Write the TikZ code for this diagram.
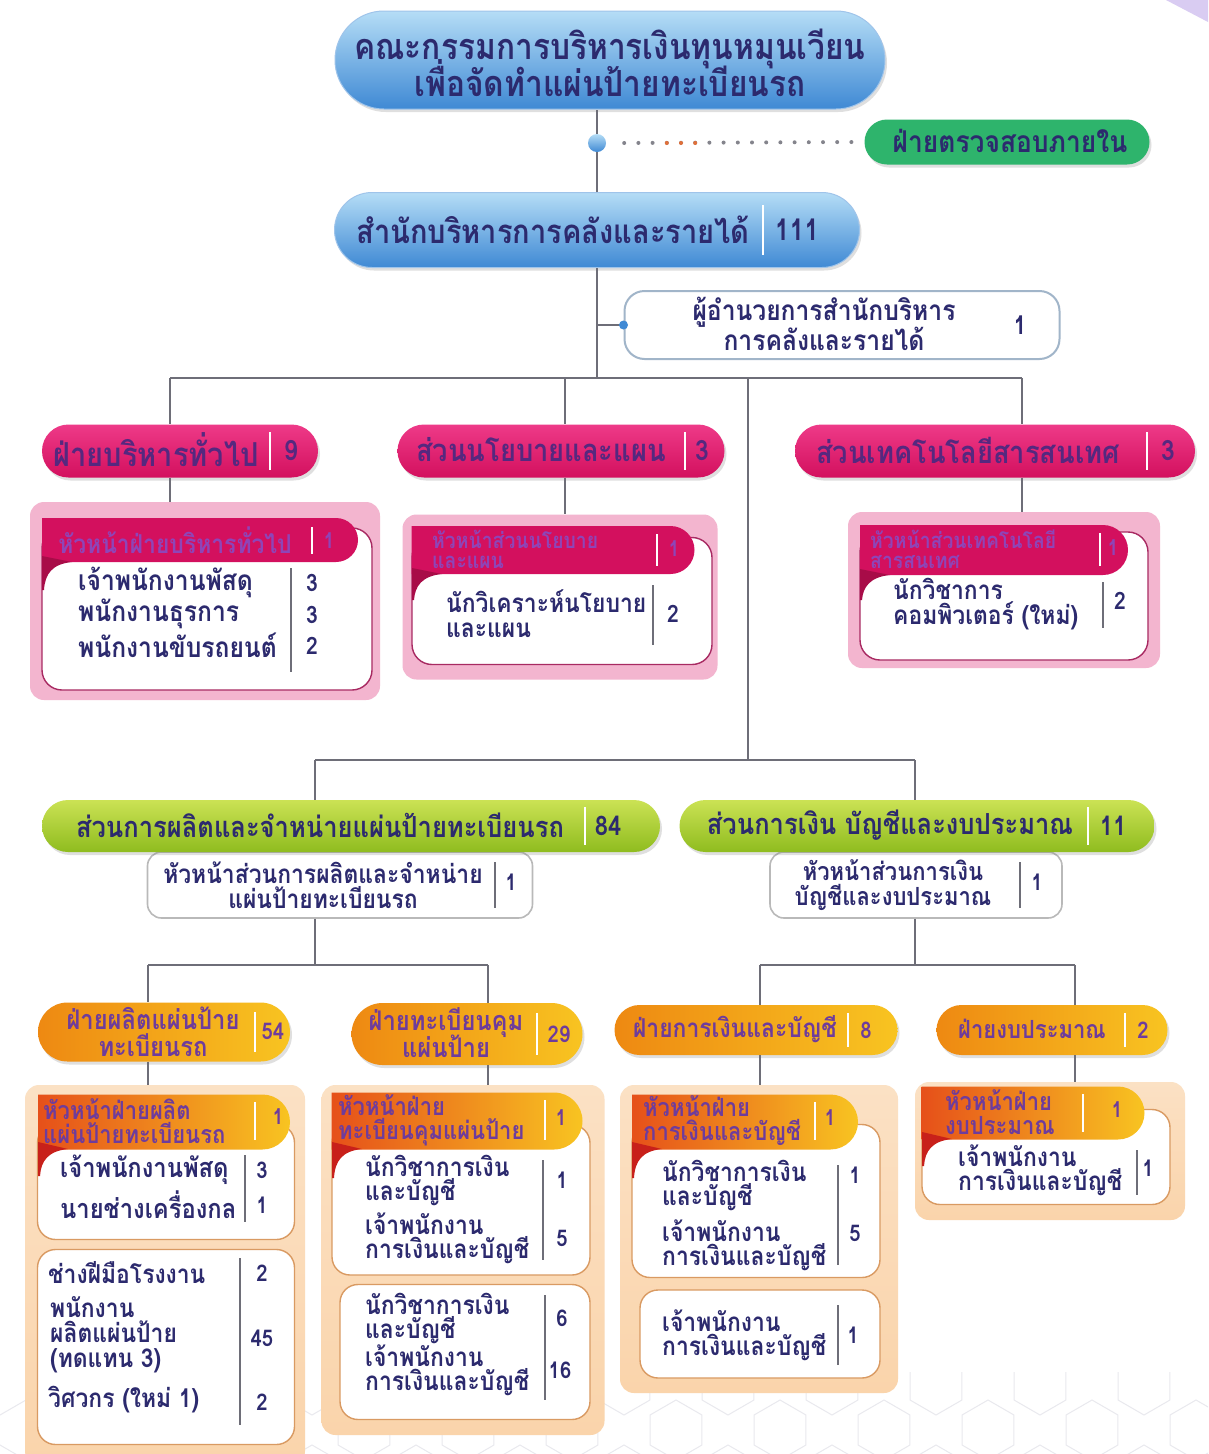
\documentclass[tikz,border=0pt]{standalone}
\usepackage{fontspec}
\newfontfamily\thai[Script=Thai,FakeStretch=0.88]{Loma}
\newcommand\tightls{\lineskiplimit-60pt\relax\lineskip0pt\relax}
\usetikzlibrary{shapes.misc,shadows}
\definecolor{navy}{HTML}{2C2A6E}
\definecolor{purp}{HTML}{55287F}
\definecolor{hpurp}{HTML}{8E45B8}
\definecolor{opurp}{HTML}{6E3C9C}
\definecolor{connc}{HTML}{6E6E78}
\definecolor{blueL}{HTML}{B5DDF6}
\definecolor{blueD}{HTML}{3F89D4}
\definecolor{pinkL}{HTML}{EE3A88}
\definecolor{pinkD}{HTML}{D3105E}
\definecolor{pinkBg}{HTML}{F3B5CF}
\definecolor{pinkEdge}{HTML}{A82A62}
\definecolor{pinkFold}{HTML}{A80C48}
\definecolor{limeL}{HTML}{CBE254}
\definecolor{limeD}{HTML}{8FBC1F}
\definecolor{greenA}{HTML}{2EB46C}
\definecolor{oraL}{HTML}{EE8912}
\definecolor{oraR}{HTML}{F8C421}
\definecolor{redL}{HTML}{E6501A}
\definecolor{oraBg}{HTML}{FAD4AB}
\definecolor{oraEdge}{HTML}{D99A62}
\definecolor{redFold}{HTML}{C8201A}
\definecolor{lav}{HTML}{D9CCF2}
\definecolor{dotor}{HTML}{E0703A}
\definecolor{hexc}{HTML}{E9E9EE}
\begin{document}
\begin{tikzpicture}[x=1pt,y=-1pt,
 fs/.style 2 args={font=\thai\bfseries\fontsize{#1}{#2}\selectfont\tightls},
 tx/.style={inner sep=0pt, align=center, text=navy},
 lt/.style={inner sep=0pt, align=left, anchor=west, text=navy},
 num/.style={inner sep=0pt, text=navy},
 wire/.style={draw=connc, line width=1.3pt},
 sepw/.style={draw=white, line width=1.6pt},
 sepg/.style={draw=connc, line width=1.2pt},
 shad/.style={drop shadow={opacity=0.25, shadow xshift=2pt, shadow yshift=-3pt}},
 bluepill/.style={rounded rectangle, inner sep=0pt, top color=blueL, bottom color=blueD, draw=blueD!50, line width=1pt, shad},
 pinkpill/.style={rounded rectangle, inner sep=0pt, top color=pinkL, bottom color=pinkD, shad},
 limepill/.style={rounded rectangle, inner sep=0pt, top color=limeL, bottom color=limeD, shad},
 orapill/.style={rounded rectangle, inner sep=0pt, left color=oraL, right color=oraR, shad},
 pinkbg/.style={rectangle, rounded corners=14pt, fill=pinkBg, inner sep=0pt},
 orabg/.style={rectangle, rounded corners=14pt, top color=oraBg!70, bottom color=oraBg, inner sep=0pt},
 pinkwhite/.style={rectangle, rounded corners=20pt, fill=white, draw=pinkEdge, line width=1.4pt, inner sep=0pt},
 orawhite/.style={rectangle, rounded corners=18pt, fill=white, draw=oraEdge, line width=1.4pt, inner sep=0pt},
 pinkhead/.style={rounded rectangle, rounded rectangle left arc=none, inner sep=0pt, fill=pinkD},
 orahead/.style={rounded rectangle, rounded rectangle left arc=none, inner sep=0pt, left color=redL, right color=oraR},
 greenbox/.style={rectangle, rounded corners=14pt, fill=white, draw=gray!55, line width=1.6pt, inner sep=0pt},
]
\useasboundingbox (0,0) rectangle (1208,1454);
\fill[white] (0,0) rectangle (1208,1454);
\fill[lav] (1166,0) -- (1208,0) -- (1208,22) -- cycle;

% faint hexagon texture at the bottom
\begin{scope}
\clip (0,1372) rectangle (1208,1454);
\foreach \i in {0,...,24} {
  \foreach \j in {0,1,2} {
    \pgfmathsetmacro{\cx}{\i*52}
    \pgfmathsetmacro{\cy}{1385+\j*90+mod(\i,2)*45}
    \draw[hexc, line width=1pt] (\cx,\cy) +(30:30) -- +(90:30) -- +(150:30) -- +(210:30) -- +(270:30) -- +(330:30) -- cycle;
  }
}
\end{scope}

% ---------- top ----------
\node[bluepill, minimum width=550pt, minimum height=98pt] (board) at (610,60) {};
\node[tx, fs={36}{37}] (boardT) at (610,63) {คณะกรรมการบริหารเงินทุนหมุนเวียน\\เพื่อจัดทำแผ่นป้ายทะเบียนรถ};

\node[circle, inner sep=0pt, minimum size=18pt, top color=blueL, bottom color=blueD] (dot) at (597,143) {};
\node[rounded rectangle, inner sep=0pt, fill=greenA, minimum width=285pt, minimum height=45pt, shad] (audit) at (1007,142) {};
\node[tx, fs={30}{32}] (auditT) at (1010,141) {ฝ่ายตรวจสอบภายใน};
\draw[draw=connc!85, line width=4pt, line cap=round, dash pattern=on 0pt off 14.2pt] ([xshift=18pt]dot.east) -- ([xshift=-4pt]audit.west);
\draw[draw=dotor, line width=4pt, line cap=round, dash pattern=on 0pt off 14.2pt] ([xshift=60.6pt]dot.east) -- ([xshift=90pt]dot.east);

\node[bluepill, minimum width=525pt, minimum height=75pt] (main) at (597,230) {};
\node[tx, fs={33}{35}] (mainT) at (553,230) {สำนักบริหารการคลังและรายได้};
\draw[sepw] (763,205) -- (763,255);
\node[num, fs={30}{32}] (mainN) at (797,230) {111};

\draw[wire] (main.north) -- (dot.south);
\draw[wire] (dot.north) -- (board.south -| dot.north);

% director
\node[rectangle, rounded corners=20pt, fill=white, draw=blueD!45!gray!60, line width=2pt, minimum width=435pt, minimum height=68pt, inner sep=0pt] (dir) at (842,325) {};
\node[tx, fs={28}{30}] (dirT) at (824,324) {ผู้อำนวยการสำนักบริหาร\\การคลังและรายได้};
\node[num, fs={26}{28}] (dirN) at (1020,325) {1};
\coordinate (bus) at (597,378);
\draw[wire] (main.south) -- (bus);
\draw[wire] (main.south |- dir.west) -- (dir.west);
\fill[blueD] (dir.west) circle (4.5pt);

% ---------- pink row ----------
\coordinate (jA) at (170,378);
\coordinate (jB) at (565,378);
\coordinate (jC) at (1022,378);
\coordinate (jT) at (748,378);
\draw[wire] (jA) -- (jC);

\node[pinkpill, minimum width=276pt, minimum height=53pt] (gen) at (180,451) {};
\node[tx, text=purp, fs={33}{35}] (genT) at (156,450) {ฝ่ายบริหารทั่วไป};
\draw[sepw] (270,432) -- (270,470);
\node[num, text=purp, fs={28}{30}] (genN) at (291,451) {9};

\node[pinkpill, minimum width=327pt, minimum height=53pt] (pol) at (561,451) {};
\node[tx, text=purp, fs={31}{33}] (polT) at (541,450) {ส่วนนโยบายและแผน};
\draw[sepw] (685,432) -- (685,470);
\node[num, text=purp, fs={28}{30}] (polN) at (702,451) {3};

\node[pinkpill, minimum width=400pt, minimum height=53pt] (it) at (995,451) {};
\node[tx, text=purp, fs={31}{33}] (itT) at (968,450) {ส่วนเทคโนโลยีสารสนเทศ};
\draw[sepw] (1147,432) -- (1147,470);
\node[num, text=purp, fs={28}{30}] (itN) at (1168,451) {3};

\draw[wire] (jA) -- (jA |- gen.north);
\draw[wire] (jB) -- (jB |- pol.north);
\draw[wire] (jC) -- (jC |- it.north);

% general admin box
\node[pinkbg, minimum width=350pt, minimum height=198pt] (genBg) at (205,601) {};
\draw[wire] (jA |- gen.south) -- (jA |- genBg.north);
\node[pinkwhite, minimum width=330pt, minimum height=162pt] (genW) at (207,609) {};
\node[pinkhead, minimum width=316pt, minimum height=44pt] (genH) at (200,540) {};
\fill[pinkFold] (42,556) -- (72,562) .. controls (52,564) and (45,574) .. (44,590) -- (42,590) -- cycle;
\node[tx, text=hpurp, fs={26}{28}] (genHT) at (175,540) {หัวหน้าฝ่ายบริหารทั่วไป};
\draw[sepw] (312,527) -- (312,554);
\node[num, text=hpurp, fs={22}{24}] (genHN) at (329,541) {1};
\node[lt, fs={28}{30}] (genR1) at (78,582) {เจ้าพนักงานพัสดุ};
\node[lt, fs={28}{30}] (genR2) at (78,614) {พนักงานธุรการ};
\node[lt, fs={28}{30}] (genR3) at (78,645) {พนักงานขับรถยนต์};
\draw[sepg] (291,568) -- (291,672);
\node[num, fs={24}{26}] (genN1) at (312,583) {3};
\node[num, fs={24}{26}] (genN2) at (312,615) {3};
\node[num, fs={24}{26}] (genN3) at (312,646) {2};

% policy box
\node[pinkbg, minimum width=315pt, minimum height=165pt] (polBg) at (560,597) {};
\draw[wire] (jB |- pol.south) -- (jB |- polBg.north);
\node[pinkwhite, minimum width=300pt, minimum height=127pt] (polW) at (562,601) {};
\node[pinkhead, minimum width=283pt, minimum height=48pt] (polH) at (553,550) {};
\fill[pinkFold] (412,568) -- (442,574) .. controls (422,576) and (415,586) .. (414,600) -- (412,600) -- cycle;
\node[lt, text=hpurp, fs={22}{20}] (polHT) at (432,549) {หัวหน้าส่วนนโยบาย\\และแผน};
\draw[sepw] (657,534) -- (657,566);
\node[num, text=hpurp, fs={22}{24}] (polHN) at (674,549) {1};
\node[lt, fs={26}{25}] (polR1) at (446,614) {นักวิเคราะห์นโยบาย\\และแผน};
\draw[sepg] (653,585) -- (653,645);
\node[num, fs={24}{26}] (polN1) at (673,614) {2};

% IT box
\node[pinkbg, minimum width=312pt, minimum height=156pt] (itBg) at (1004,590) {};
\draw[wire] (jC |- it.south) -- (jC |- itBg.north);
\node[pinkwhite, minimum width=288pt, minimum height=128pt] (itW) at (1004,596) {};
\node[pinkhead, minimum width=268pt, minimum height=50pt] (itH) at (994,550) {};
\fill[pinkFold] (860,569) -- (890,575) .. controls (870,577) and (863,587) .. (862,600) -- (860,600) -- cycle;
\node[lt, text=hpurp, fs={22}{20}] (itHT) at (870,549) {หัวหน้าส่วนเทคโนโลยี\\สารสนเทศ};
\draw[sepw] (1100,533) -- (1100,566);
\node[num, text=hpurp, fs={22}{24}] (itHN) at (1113,548) {1};
\node[lt, fs={26}{25}] (itR1) at (893,604) {นักวิชาการ\\คอมพิวเตอร์ (ใหม่)};
\draw[sepg] (1103,582) -- (1103,628);
\node[num, fs={24}{26}] (itN1) at (1120,601) {2};

% ---------- trunk to lower level ----------
\coordinate (jD) at (748,760);
\coordinate (jE) at (315,760);
\coordinate (jF) at (915,760);
\draw[wire] (jT) -- (jD);
\draw[wire] (jE) -- (jF);

% white head boxes under green
\node[greenbox, minimum width=385pt, minimum height=66pt] (prodH) at (340,885) {};
\node[greenbox, minimum width=292pt, minimum height=66pt] (finH) at (916,885) {};

\node[limepill, minimum width=618pt, minimum height=52pt] (prod) at (351,826) {};
\node[tx, fs={29}{31}] (prodT) at (320,825) {ส่วนการผลิตและจำหน่ายแผ่นป้ายทะเบียนรถ};
\draw[sepw] (585,807) -- (585,845);
\node[num, fs={27}{29}] (prodN) at (608,826) {84};

\node[limepill, minimum width=475pt, minimum height=52pt] (fin) at (917,826) {};
\node[tx, fs={29}{31}] (finT) at (890,825) {ส่วนการเงิน บัญชีและงบประมาณ};
\draw[sepw] (1088,807) -- (1088,845);
\node[num, fs={27}{29}] (finN) at (1113,826) {11};

\draw[wire] (jE) -- (jE |- prod.north);
\draw[wire] (jF) -- (jF |- fin.north);

\node[tx, fs={26}{25}] (prodHT) at (323,885) {หัวหน้าส่วนการผลิตและจำหน่าย\\แผ่นป้ายทะเบียนรถ};
\draw[sepg] (495,862) -- (495,908);
\node[num, fs={23}{25}] (prodHN) at (511,882) {1};
\node[tx, fs={25}{25}] (finHT) at (893,885) {หัวหน้าส่วนการเงิน\\บัญชีและงบประมาณ};
\draw[sepg] (1020,862) -- (1020,908);
\node[num, fs={23}{25}] (finHN) at (1037,882) {1};

% ---------- orange level connectors ----------
\coordinate (kA) at (315,965);
\coordinate (k1) at (148,965);
\coordinate (k2) at (488,965);
\coordinate (kB) at (915,965);
\coordinate (k3) at (760,965);
\coordinate (k4) at (1075,965);
\draw[wire] (kA |- prodH.south) -- (kA);
\draw[wire] (k1) -- (k2);
\draw[wire] (kB |- finH.south) -- (kB);
\draw[wire] (k3) -- (k4);

% orange pills
\node[orapill, minimum width=252pt, minimum height=59pt] (op1) at (164,1032) {};
\node[tx, text=opurp, fs={27}{27}] (op1T) at (153,1032) {ฝ่ายผลิตแผ่นป้าย\\ทะเบียนรถ};
\draw[sepw] (255,1012) -- (255,1052);
\node[num, text=opurp, fs={23}{25}] (op1N) at (273,1031) {54};

\node[orapill, minimum width=231pt, minimum height=62pt] (op2) at (467,1034) {};
\node[tx, text=opurp, fs={27}{27}] (op2T) at (446,1033) {ฝ่ายทะเบียนคุม\\แผ่นป้าย};
\draw[sepw] (537,1013) -- (537,1055);
\node[num, text=opurp, fs={23}{25}] (op2N) at (559,1034) {29};

\node[orapill, minimum width=283pt, minimum height=50pt] (op3) at (756,1030) {};
\node[tx, text=opurp, fs={26}{28}] (op3T) at (735,1029) {ฝ่ายการเงินและบัญชี};
\draw[sepw] (848,1013) -- (848,1047);
\node[num, text=opurp, fs={23}{25}] (op3N) at (866,1030) {8};

\node[orapill, minimum width=231pt, minimum height=50pt] (op4) at (1052,1030) {};
\node[tx, text=opurp, fs={25}{27}] (op4T) at (1032,1029) {ฝ่ายงบประมาณ};
\draw[sepw] (1125,1013) -- (1125,1047);
\node[num, text=opurp, fs={23}{25}] (op4N) at (1143,1030) {2};

\draw[wire] (k1) -- (k1 |- op1.north);
\draw[wire] (k2) -- (k2 |- op2.north);
\draw[wire] (k3) -- (k3 |- op3.north);
\draw[wire] (k4) -- (k4 |- op4.north);

% ---------- orange box 1 ----------
\node[orabg, minimum width=280pt, minimum height=380pt] (ob1) at (165,1275) {};
\draw[wire] (k1 |- op1.south) -- (k1 |- ob1.north);
\node[orawhite, minimum width=257pt, minimum height=115pt] (ob1W1) at (166,1182) {};
\node[orahead, minimum width=252pt, minimum height=55pt] (ob1H) at (164,1122) {};
\fill[redFold] (38,1142) -- (68,1149) .. controls (48,1151) and (41,1161) .. (40,1176) -- (38,1176) -- cycle;
\node[lt, text=opurp, fs={25}{24}] (ob1HT) at (43,1121) {หัวหน้าฝ่ายผลิต\\แผ่นป้ายทะเบียนรถ};
\draw[sepw] (255,1102) -- (255,1140);
\node[num, text=opurp, fs={22}{24}] (ob1HN) at (278,1117) {1};
\node[lt, fs={27}{28}] (ob1R1) at (60,1170) {เจ้าพนักงานพัสดุ};
\node[lt, fs={27}{28}] (ob1R2) at (60,1205) {นายช่างเครื่องกล};
\draw[sepg] (245,1155) -- (245,1222);
\node[num, fs={23}{25}] (ob1N1) at (262,1170) {3};
\node[num, fs={23}{25}] (ob1N2) at (262,1205) {1};
\node[orawhite, minimum width=257pt, minimum height=195pt] (ob1W2) at (166,1347) {};
\node[lt, fs={26}{25}] (ob1R3) at (48,1273) {ช่างฝีมือโรงงาน};
\node[lt, fs={26}{25}] (ob1R4) at (50,1335) {พนักงาน\\ผลิตแผ่นป้าย\\(ทดแทน 3)};
\node[lt, fs={26}{25}] (ob1R5) at (48,1400) {วิศวกร (ใหม่ 1)};
\draw[sepg] (240,1258) -- (240,1425);
\node[num, fs={23}{25}] (ob1N3) at (262,1273) {2};
\node[num, fs={23}{25}] (ob1N4) at (262,1338) {45};
\node[num, fs={23}{25}] (ob1N5) at (262,1402) {2};

% ---------- orange box 2 ----------
\node[orabg, minimum width=283pt, minimum height=350pt] (ob2) at (463,1260) {};
\draw[wire] (k2 |- op2.south) -- (k2 |- ob2.north);
\node[orawhite, minimum width=258pt, minimum height=150pt] (ob2W1) at (461,1200) {};
\node[orahead, minimum width=251pt, minimum height=57pt] (ob2H) at (457,1121) {};
\fill[redFold] (332,1142) -- (362,1149) .. controls (342,1151) and (335,1161) .. (334,1178) -- (332,1178) -- cycle;
\node[lt, text=opurp, fs={25}{24}] (ob2HT) at (338,1120) {หัวหน้าฝ่าย\\ทะเบียนคุมแผ่นป้าย};
\draw[sepw] (545,1100) -- (545,1140);
\node[num, text=opurp, fs={22}{24}] (ob2HN) at (561,1118) {1};
\node[lt, fs={26}{24}] (ob2R1) at (365,1180) {นักวิชาการเงิน\\และบัญชี};
\node[lt, fs={26}{24}] (ob2R2) at (365,1238) {เจ้าพนักงาน\\การเงินและบัญชี};
\draw[sepg] (543,1160) -- (543,1260);
\node[num, fs={23}{25}] (ob2N1) at (562,1180) {1};
\node[num, fs={23}{25}] (ob2N2) at (562,1238) {5};
\node[orawhite, minimum width=250pt, minimum height=135pt] (ob2W2) at (465,1352) {};
\node[lt, fs={26}{24}] (ob2R3) at (365,1318) {นักวิชาการเงิน\\และบัญชี};
\node[lt, fs={26}{24}] (ob2R4) at (365,1370) {เจ้าพนักงาน\\การเงินและบัญชี};
\draw[sepg] (545,1295) -- (545,1400);
\node[num, fs={23}{25}] (ob2N3) at (562,1318) {6};
\node[num, fs={23}{25}] (ob2N4) at (560,1370) {16};

% ---------- orange box 3 ----------
\node[orabg, minimum width=278pt, minimum height=308pt] (ob3) at (759,1239) {};
\draw[wire] (k3 |- op3.south) -- (k3 |- ob3.north);
\node[orawhite, minimum width=248pt, minimum height=153pt] (ob3W1) at (756,1201) {};
\node[orahead, minimum width=226pt, minimum height=55pt] (ob3H) at (745,1122) {};
\fill[redFold] (632,1142) -- (662,1149) .. controls (642,1151) and (635,1161) .. (634,1178) -- (632,1178) -- cycle;
\node[lt, text=opurp, fs={25}{24}] (ob3HT) at (643,1121) {หัวหน้าฝ่าย\\การเงินและบัญชี};
\draw[sepw] (815,1102) -- (815,1140);
\node[num, text=opurp, fs={22}{24}] (ob3HN) at (830,1118) {1};
\node[lt, fs={26}{24}] (ob3R1) at (662,1185) {นักวิชาการเงิน\\และบัญชี};
\node[lt, fs={26}{24}] (ob3R2) at (662,1245) {เจ้าพนักงาน\\การเงินและบัญชี};
\draw[sepg] (838,1165) -- (838,1265);
\node[num, fs={23}{25}] (ob3N1) at (855,1175) {1};
\node[num, fs={23}{25}] (ob3N2) at (855,1233) {5};
\node[orawhite, minimum width=240pt, minimum height=88pt] (ob3W2) at (760,1334) {};
\node[lt, fs={26}{24}] (ob3R3) at (662,1335) {เจ้าพนักงาน\\การเงินและบัญชี};
\draw[sepg] (838,1305) -- (838,1365);
\node[num, fs={23}{25}] (ob3N3) at (853,1335) {1};

% ---------- orange box 4 ----------
\node[orabg, minimum width=270pt, minimum height=138pt] (ob4) at (1050,1151) {};
\draw[wire] (k4 |- op4.south) -- (k4 |- ob4.north);
\node[orawhite, minimum width=248pt, minimum height=95pt] (ob4W) at (1046,1157) {};
\node[orahead, minimum width=223pt, minimum height=53pt] (ob4H) at (1033,1113) {};
\fill[redFold] (922,1132) -- (952,1139) .. controls (932,1141) and (925,1151) .. (924,1166) -- (922,1166) -- cycle;
\node[lt, text=opurp, fs={25}{24}] (ob4HT) at (945,1112) {หัวหน้าฝ่าย\\งบประมาณ};
\draw[sepw] (1083,1094) -- (1083,1132);
\node[num, text=opurp, fs={22}{24}] (ob4HN) at (1117,1110) {1};
\node[lt, fs={26}{24}] (ob4R1) at (958,1170) {เจ้าพนักงาน\\การเงินและบัญชี};
\draw[sepg] (1137,1150) -- (1137,1195);
\node[num, fs={23}{25}] (ob4N1) at (1148,1168) {1};
\end{tikzpicture}
\end{document}
